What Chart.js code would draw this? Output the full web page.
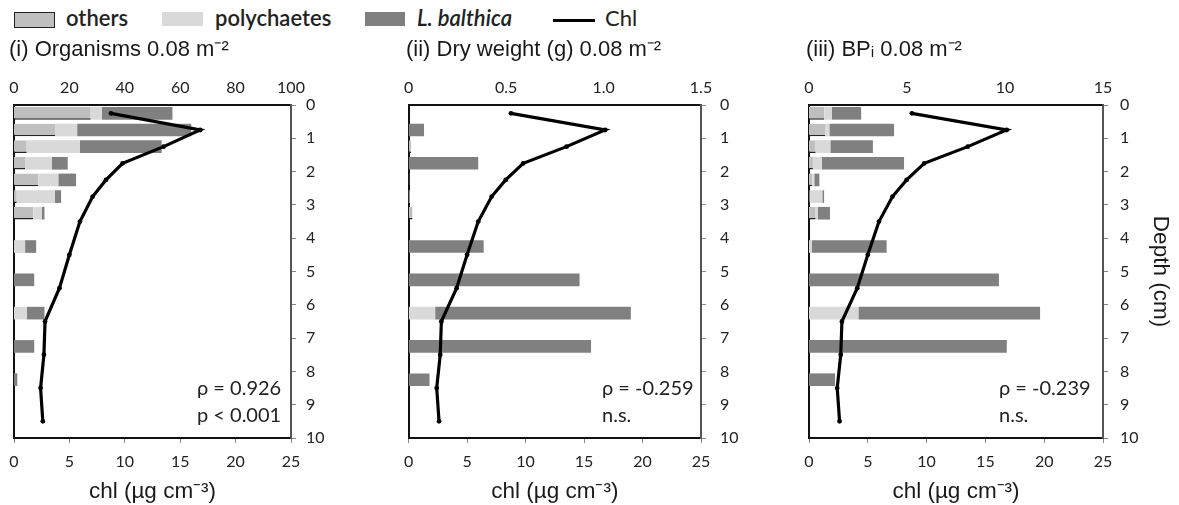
<!DOCTYPE html>
<html>
<head>
<meta charset="utf-8">
<script src="https://cdn.jsdelivr.net/npm/chart.js@4.4.1/dist/chart.umd.min.js"></script>
<style>
body { margin: 0; width: 1179px; height: 505px; background: #fff; position: relative; overflow: hidden; }
.panel { position: absolute; top: 0; }
#legend { position: absolute; left: 0; top: 0; width: 700px; height: 36px; font-family: Lato, sans-serif; font-size: 22px; color: #222; }
#legend .box { position: absolute; top: 12px; height: 14px; }
#legend .txt { position: absolute; top: 5px; line-height: 26px; font-weight: 600; }
</style>
</head>
<body>
<div id="legend">
  <div class="box" style="left:14px;width:39px;background:#bfbfbf;border:1.5px solid #222;"></div>
  <div class="txt" style="left:66px;">others</div>
  <div class="box" style="left:162px;width:41px;background:#d9d9d9;"></div>
  <div class="txt" style="left:215px;">polychaetes</div>
  <div class="box" style="left:365px;width:40px;background:#808080;"></div>
  <div class="txt" style="left:417px;font-style:italic;">L. balthica</div>
  <div class="box" style="left:553px;width:42px;top:19px;height:3px;background:#000;"></div>
  <div class="txt" style="left:605px;font-weight:400;">Chl</div>
</div>
<canvas class="panel" id="p1" width="390" height="505" style="left:0px"></canvas>
<canvas class="panel" id="p2" width="390" height="505" style="left:395px"></canvas>
<canvas class="panel" id="p3" width="384" height="505" style="left:795px"></canvas>
<script>
// depth (cm) of each sampled layer, bar midpoints
var barDepths = [0.25, 0.75, 1.25, 1.75, 2.25, 2.75, 3.25, 4.25, 5.25, 6.25, 7.25, 8.25];

// (i) organisms 0.08 m-2
var orgOthers = [27.7, 14.8, 4.6, 4.0, 8.8, 1.0, 7.0, 0, 0, 0, 0, 0];
var orgPoly   = [4.0, 8.0, 19.2, 9.6, 7.2, 13.8, 3.0, 4.0, 0, 4.6, 0, 0];
var orgBalt   = [25.5, 41.2, 29.5, 5.8, 6.4, 2.2, 1.0, 4.0, 7.3, 6.4, 7.3, 1.2];

// (ii) dry weight (g) 0.08 m-2
var dwOthers = [0, 0, 0.012, 0, 0.004, 0, 0.02, 0, 0, 0, 0, 0];
var dwPoly   = [0, 0, 0, 0, 0, 0.005, 0, 0, 0, 0.136, 0, 0];
var dwBalt   = [0, 0.079, 0, 0.357, 0, 0, 0, 0.385, 0.877, 1.004, 0.936, 0.107];

// (iii) BPi 0.08 m-2
var bpOthers = [0.78, 0.82, 0.34, 0.2, 0.17, 0.03, 0.34, 0, 0, 0, 0, 0];
var bpPoly   = [0.38, 0.22, 0.75, 0.45, 0.1, 0.65, 0.1, 0.14, 0, 2.52, 0, 0];
var bpBalt   = [1.5, 3.3, 2.17, 4.2, 0.26, 0.09, 0.63, 3.82, 9.69, 9.27, 10.09, 1.33];

// chlorophyll profile (same in every panel)
var chlDepths = [0.25, 0.75, 1.25, 1.75, 2.25, 2.75, 3.5, 4.5, 5.5, 6.5, 7.5, 8.5, 9.5];
var chlValues = [8.75, 16.8, 13.5, 9.8, 8.3, 7.1, 5.95, 5.0, 4.1, 2.8, 2.7, 2.4, 2.6];

var topTicks1 = ['0', '20', '40', '60', '80', '100'];
var topTicks2 = ['0', '0.5', '1.0', '1.5'];
var topTicks3 = ['0', '5', '10', '15'];

var tickFont = { family: 'Lato', size: 16 };
var labelFont = { family: 'Liberation Sans', size: 22.5 };

var statText = {
    id: 'statText',
    afterDatasetsDraw: function(chart, args, opts) {
        var ctx = chart.ctx;
        var a = chart.chartArea;
        ctx.save();
        ctx.font = '20px Lato';
        ctx.fillStyle = '#222';
        ctx.textBaseline = 'middle';
        for (var i = 0; i < opts.lines.length; i++) {
            ctx.fillText(opts.lines[i], a.right + opts.dx, a.bottom + opts.dy[i]);
        }
        ctx.restore();
    }
};

function pairs(depths, values) {
    var out = [];
    for (var i = 0; i < depths.length; i++) {
        out.push({ x: values[i], y: depths[i] });
    }
    return out;
}

function barSet(label, values, color, border) {
    return {
        type: 'bar',
        label: label,
        data: pairs(barDepths, values),
        xAxisID: 'x2',
        yAxisID: 'y',
        stack: 'layer',
        order: 1,
        backgroundColor: color,
        borderColor: '#222',
        borderWidth: border ? { top: 0, right: 0, bottom: 1.5, left: 0 } : 0,
        borderSkipped: false,
        barPercentage: 1,
        categoryPercentage: 0.76
    };
}

function makePanel(id, p) {
    var ctx = document.getElementById(id).getContext('2d');
    return new Chart(ctx, {
        type: 'bar',
        data: {
            datasets: [
                {
                    type: 'line',
                    label: 'Chl',
                    data: pairs(chlDepths, chlValues),
                    xAxisID: 'x',
                    yAxisID: 'y',
                    order: 0,
                    borderColor: '#000',
                    borderWidth: 3.2,
                    pointRadius: 2.4,
                    pointBackgroundColor: '#000',
                    pointBorderWidth: 0,
                    tension: 0
                },
                barSet('others', p.others, '#bfbfbf', true),
                barSet('polychaetes', p.poly, '#d9d9d9', false),
                barSet('L. balthica', p.balt, '#808080', false)
            ]
        },
        options: {
            indexAxis: 'y',
            responsive: false,
            animation: false,
            layout: { padding: { top: 36, left: p.padLeft, right: 0, bottom: 0 } },
            plugins: {
                legend: { display: false },
                tooltip: { enabled: false },
                title: {
                    display: true,
                    text: p.title,
                    align: 'start',
                    color: '#1a1a1a',
                    font: { family: 'Liberation Sans', size: 22, weight: 'normal' },
                    padding: { top: 1, bottom: 6 }
                },
                statText: { lines: p.stats, dx: p.statDx, dy: [-49, -22] }
            },
            scales: {
                x: {
                    type: 'linear',
                    position: 'bottom',
                    min: 0,
                    max: 25,
                    ticks: { stepSize: 5, font: tickFont, color: '#222', padding: 9, maxRotation: 0, autoSkip: false },
                    grid: { drawOnChartArea: false, drawTicks: true, tickLength: 5, color: '#888' },
                    border: { color: '#111', width: 2 },
                    title: { display: true, text: 'chl (µg cm⁻³)', color: '#1a1a1a', font: labelFont, padding: { top: 0, bottom: 0 } },
                    afterFit: function(s) { s.height = 67; }
                },
                x2: {
                    type: 'linear',
                    position: 'top',
                    min: 0,
                    max: p.topMax,
                    ticks: {
                        stepSize: p.topStep,
                        font: tickFont,
                        color: '#222',
                        padding: 8,
                        maxRotation: 0,
                        autoSkip: false,
                        callback: function(v, i) { return p.topTicks[i]; }
                    },
                    grid: { display: false, drawTicks: false },
                    border: { color: '#111', width: 2 },
                    afterFit: function(s) { s.height = 35.6; }
                },
                y: {
                    type: 'linear',
                    position: 'right',
                    reverse: true,
                    offset: false,
                    min: 0,
                    max: 10,
                    ticks: { stepSize: 1, font: tickFont, color: '#222', padding: p.rightPad, autoSkip: false },
                    grid: { drawOnChartArea: false, drawTicks: true, tickLength: 5, color: '#888', offset: false },
                    border: { color: '#555', width: 2 },
                    title: {
                        display: p.depthTitle,
                        text: 'Depth (cm)',
                        color: '#1a1a1a',
                        font: labelFont,
                        padding: { top: 5.5, bottom: 0 }
                    },
                    afterFit: function(s) { s.width = p.rightWidth; }
                },
                yl: {
                    type: 'linear',
                    position: 'left',
                    ticks: { display: false },
                    grid: { display: false, drawTicks: false },
                    border: { color: '#111', width: 2 },
                    afterFit: function(s) { s.width = p.leftWidth; }
                }
            }
        },
        plugins: [statText]
    });
}

makePanel('p1', {
    title: '(i) Organisms 0.08 m⁻²',
    others: orgOthers, poly: orgPoly, balt: orgBalt,
    topMax: 100, topStep: 20, topTicks: topTicks1,
    padLeft: 9, leftWidth: 5, rightWidth: 99, rightPad: 10,
    depthTitle: false,
    stats: ['ρ = 0.926', 'p < 0.001'], statDx: -94
});

makePanel('p2', {
    title: '(ii) Dry weight (g) 0.08 m⁻²',
    others: dwOthers, poly: dwPoly, balt: dwBalt,
    topMax: 1.5, topStep: 0.5, topTicks: topTicks2,
    padLeft: 11, leftWidth: 1, rightWidth: 84, rightPad: 14,
    depthTitle: false,
    stats: ['ρ = -0.259', 'n.s.'], statDx: -99
});

makePanel('p3', {
    title: '(iii) BPᵢ 0.08 m⁻²',
    others: bpOthers, poly: bpPoly, balt: bpBalt,
    topMax: 15, topStep: 5, topTicks: topTicks3,
    padLeft: 11, leftWidth: 3, rightWidth: 76, rightPad: 12,
    depthTitle: true,
    stats: ['ρ = -0.239', 'n.s.'], statDx: -104
});
</script>
</body>
</html>
